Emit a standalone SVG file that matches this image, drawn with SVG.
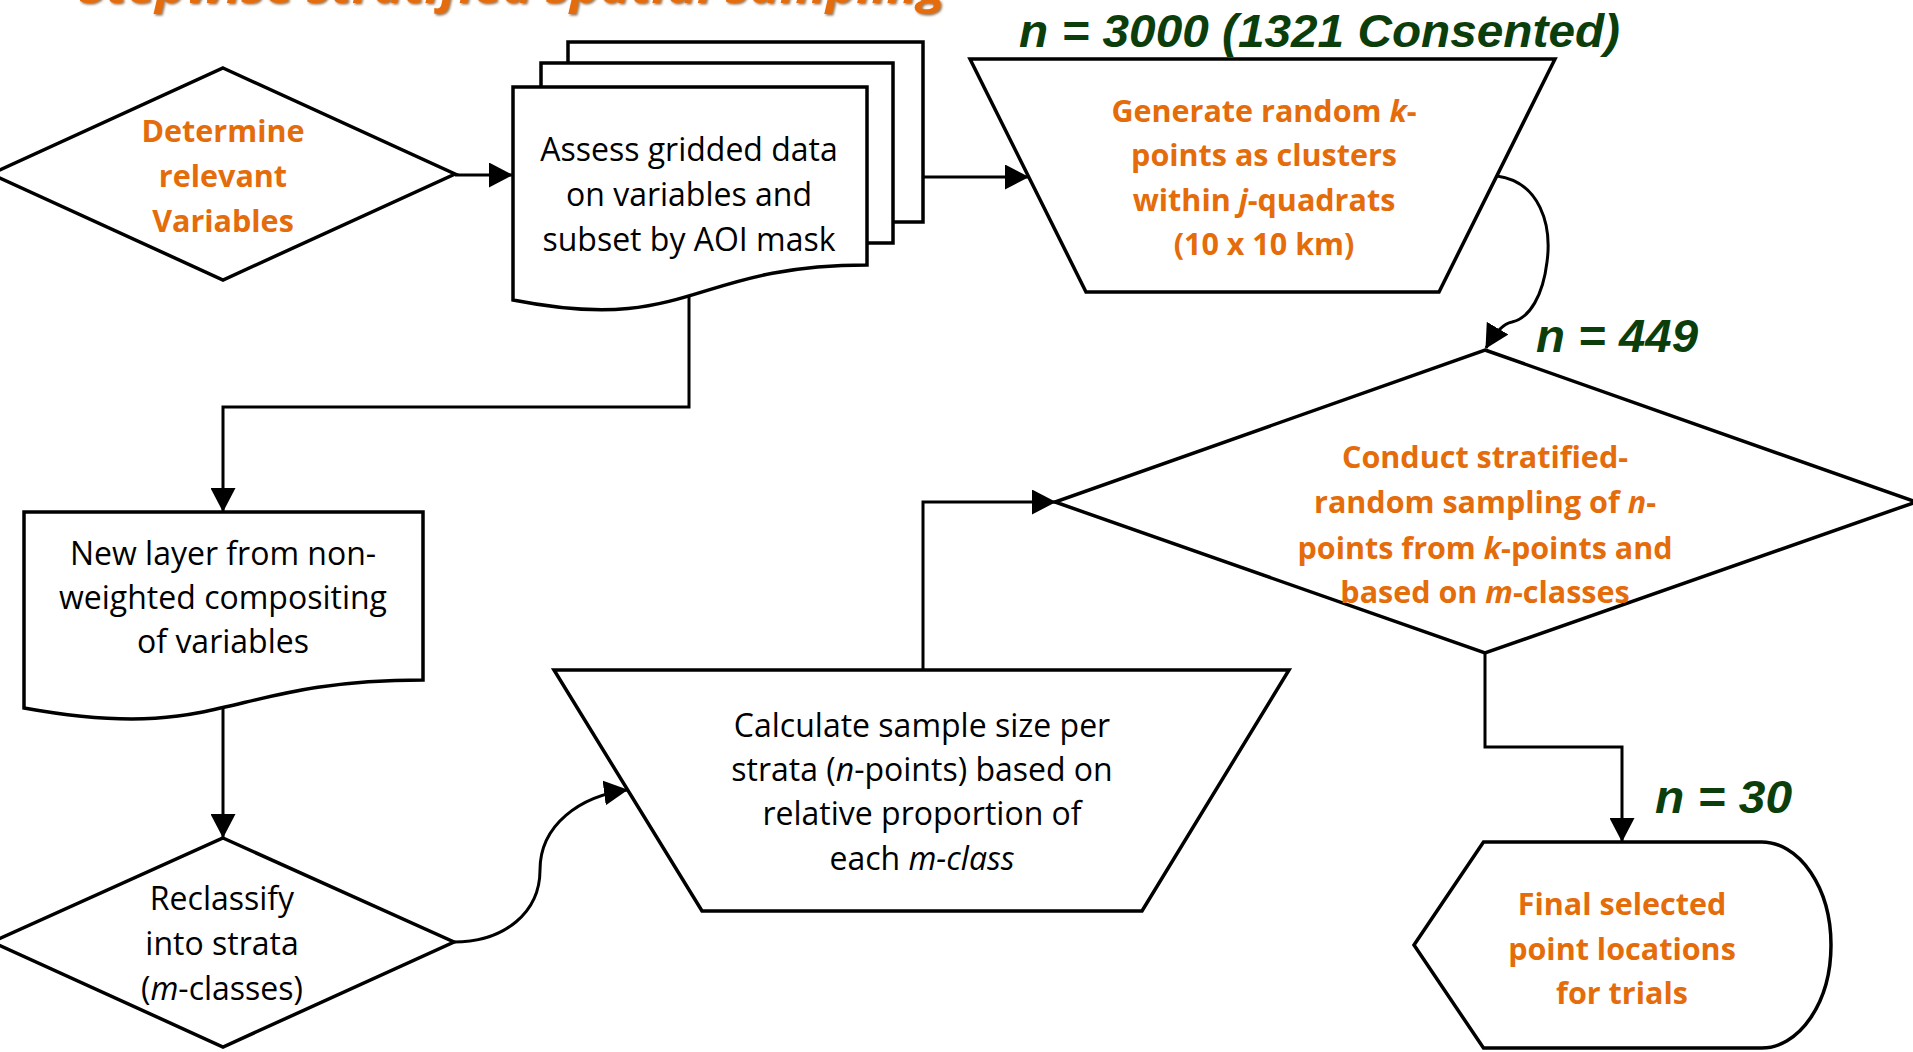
<svg xmlns="http://www.w3.org/2000/svg" width="1913" height="1052" viewBox="0 0 1913 1052">
<defs>
<style>
.shape{fill:#fff;stroke:#000;stroke-width:3.5;stroke-linejoin:miter}
.conn{fill:none;stroke:#000;stroke-width:3}
.t{font-family:"Open Sans","Liberation Sans",sans-serif;font-size:32px;fill:#000;text-anchor:middle}
.o{font-family:"Open Sans","Liberation Sans",sans-serif;font-size:30.5px;font-weight:bold;fill:#E46C0A;text-anchor:middle}
.g{font-family:"Liberation Sans",Arial,sans-serif;font-size:47px;font-weight:bold;font-style:italic;fill:#0C3E0C}
.title{font-family:"Open Sans","Liberation Sans",sans-serif;font-size:46px;font-weight:bold;font-style:italic;fill:#E46C0A}
.i{font-style:italic}
</style>
<marker id="ah" markerUnits="userSpaceOnUse" viewBox="0 0 24 25" refX="23" refY="12.5" markerWidth="24" markerHeight="25" orient="auto">
<path d="M0,0 L24,12.5 L0,25 Z" fill="#000"/>
</marker>
<filter id="sh" x="-5%" y="-50%" width="110%" height="200%">
<feDropShadow dx="1.5" dy="1.5" stdDeviation="0.8" flood-color="#6b3000" flood-opacity="0.7"/>
</filter>
</defs>
<rect width="1913" height="1052" fill="#fff"/>

<g id="title">
<text class="title" x="79" y="3" textLength="866" lengthAdjust="spacingAndGlyphs" filter="url(#sh)">Stepwise stratified spatial sampling</text>
</g>

<g id="connectors">
<path class="conn" d="M455,175 H512" marker-end="url(#ah)"/>
<path class="conn" d="M923,177 H1028" marker-end="url(#ah)"/>
<path class="conn" d="M689,296 V407 H223 V511" marker-end="url(#ah)"/>
<path class="conn" d="M223,707 V837" marker-end="url(#ah)"/>
<path class="conn" d="M454,942 C505,942 540,912 540,870 C540,825 580,796 627,790" marker-end="url(#ah)"/>
<path class="conn" d="M923,670 V502 H1055" marker-end="url(#ah)"/>
<path class="conn" d="M1497,176 C1540,182 1552,225 1547,262 C1543,295 1530,318 1512,322 Q1500,324 1486,348" marker-end="url(#ah)"/>
<path class="conn" d="M1485,653 V747 H1622 V841" marker-end="url(#ah)"/>
</g>

<g id="node-determine">
<polygon class="shape" points="223,68 455,174 223,280 -9,174"/>
<text class="o" x="223" y="142">Determine</text>
<text class="o" x="223" y="187">relevant</text>
<text class="o" x="223" y="232">Variables</text>
</g>

<g id="node-assess">
<rect class="shape" x="568" y="42" width="355" height="180"/>
<rect class="shape" x="541" y="63" width="352" height="180"/>
<path class="shape" d="M513,87 H867 V265 C690,265 690,335 513,300 Z"/>
<text class="t" x="689" y="161">Assess gridded data</text>
<text class="t" x="689" y="206">on variables and</text>
<text class="t" x="689" y="251">subset by AOI mask</text>
</g>

<g id="node-generate">
<polygon class="shape" points="970,59 1555,59 1439,292 1086,292"/>
<text class="o" x="1264" y="122">Generate random <tspan class="i">k</tspan>-</text>
<text class="o" x="1264" y="166">points as clusters</text>
<text class="o" x="1264" y="211">within <tspan class="i">j</tspan>-quadrats</text>
<text class="o" x="1264" y="255">(10 x 10 km)</text>
</g>

<g id="node-newlayer">
<path class="shape" d="M24,512 H423 V680 C223.5,680 223.5,744 24,708 Z"/>
<text class="t" x="223" y="565">New layer from non-</text>
<text class="t" x="223" y="609">weighted compositing</text>
<text class="t" x="223" y="653">of variables</text>
</g>

<g id="node-reclassify">
<polygon class="shape" points="223,838 454,942 223,1047 -8,942"/>
<text class="t" x="222" y="910">Reclassify</text>
<text class="t" x="222" y="955">into strata</text>
<text class="t" x="222" y="1000">(<tspan class="i">m</tspan>-classes)</text>
</g>

<g id="node-calculate">
<polygon class="shape" points="554,670 1289,670 1142,911 702,911"/>
<text class="t" x="922" y="737">Calculate sample size per</text>
<text class="t" x="922" y="781">strata (<tspan class="i">n</tspan>-points) based on</text>
<text class="t" x="922" y="825">relative proportion of</text>
<text class="t" x="922" y="870">each <tspan class="i">m-class</tspan></text>
</g>

<g id="node-conduct">
<polygon class="shape" points="1485,350 1916,502 1485,653 1055,502"/>
<text class="o" x="1485" y="468">Conduct stratified-</text>
<text class="o" x="1485" y="513">random sampling of <tspan class="i">n</tspan>-</text>
<text class="o" x="1485" y="559">points from <tspan class="i">k</tspan>-points and</text>
<text class="o" x="1485" y="603">based on <tspan class="i">m</tspan>-classes</text>
</g>

<g id="node-final">
<path class="shape" d="M1414,945 L1483.5,842 H1761.5 A69.5,103 0 0 1 1761.5,1048 H1483.5 Z"/>
<text class="o" x="1622" y="915">Final selected</text>
<text class="o" x="1622" y="960">point locations</text>
<text class="o" x="1622" y="1004">for trials</text>
</g>

<g id="labels">
<text class="g" x="1019" y="47" textLength="601" lengthAdjust="spacingAndGlyphs">n = 3000 (1321 Consented)</text>
<text class="g" x="1536" y="352" textLength="162" lengthAdjust="spacingAndGlyphs">n = 449</text>
<text class="g" x="1655" y="813" textLength="137" lengthAdjust="spacingAndGlyphs">n = 30</text>
</g>
</svg>
